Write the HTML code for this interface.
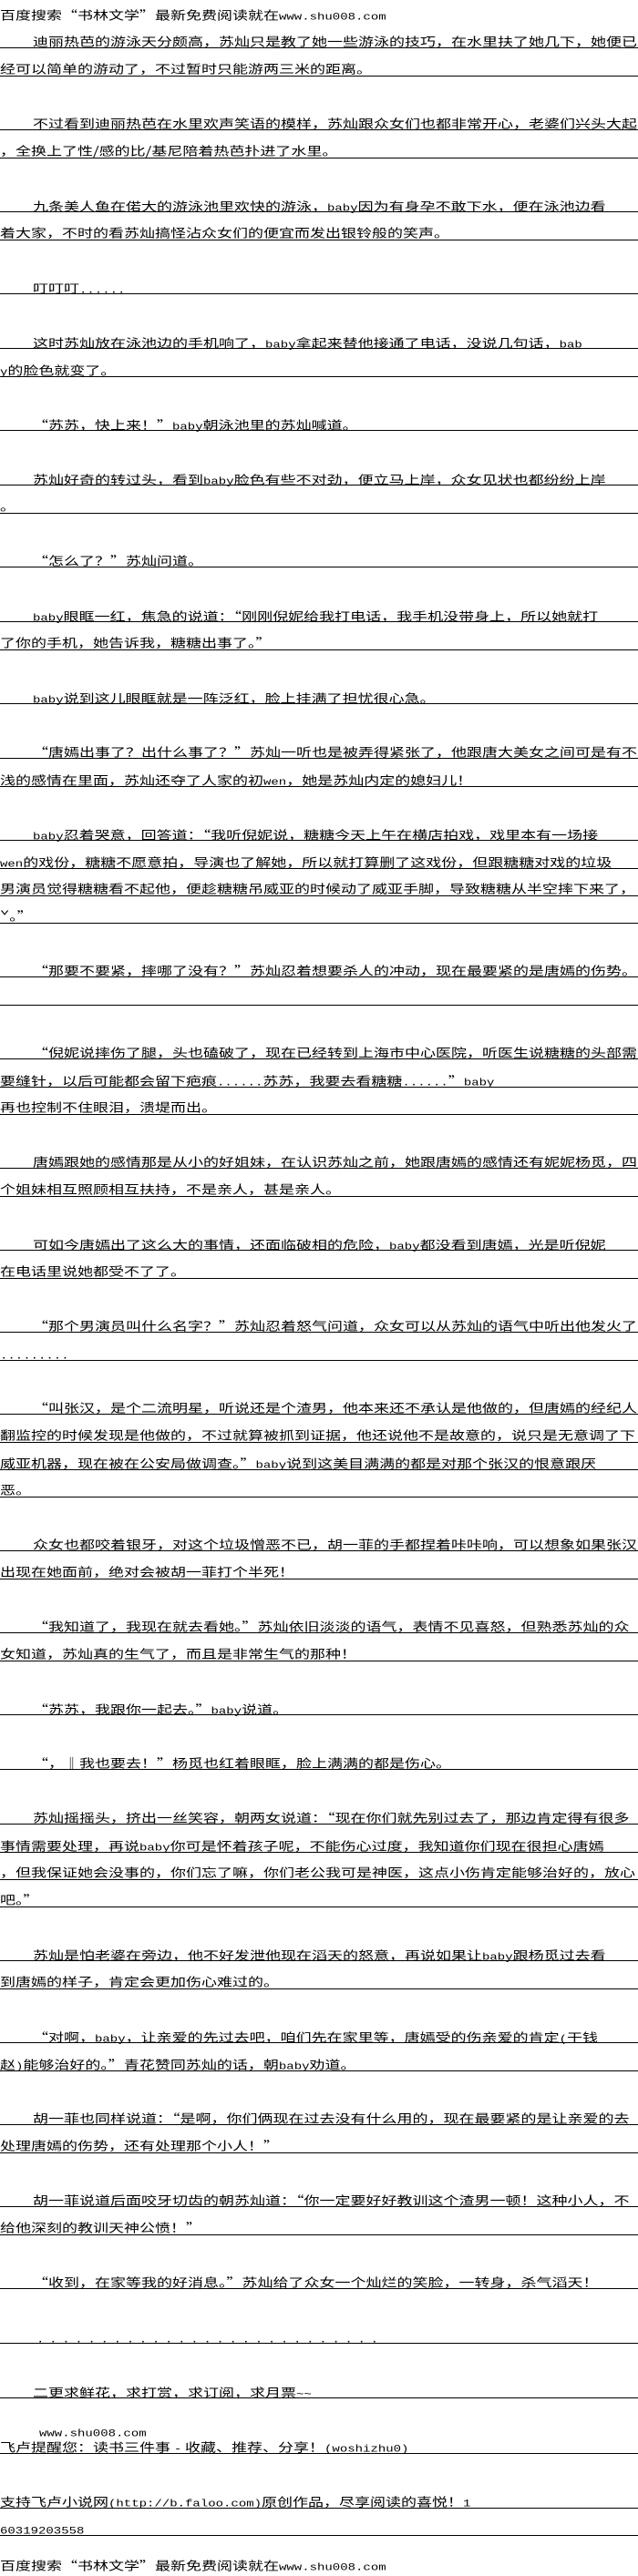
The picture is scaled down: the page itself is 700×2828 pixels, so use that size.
<!DOCTYPE html>
<html lang="zh-CN"><head><meta charset="utf-8">
<style>
html,body{margin:0;padding:0;background:#fff;}
body{width:700px;height:2828px;position:relative;overflow:hidden;color:#000;}
.r{position:absolute;left:0;width:700px;height:20px;border-bottom:1px solid #000;white-space:nowrap;font-family:"Noto Sans CJK SC","WenQuanYi Zen Hei",sans-serif;font-size:17px;line-height:20px;}
.n{border-bottom:none;}
.i{padding-left:36px;box-sizing:border-box;}
.t{display:inline-block;transform:scaleY(.78);transform-origin:0 100%;}
.l{font-family:"Liberation Mono",monospace;font-size:14px;font-style:normal;}
.d{font-family:"Liberation Mono",monospace;font-size:14px;letter-spacing:5.7px;}
</style></head><body>
<div class="r n" style="top:3px"><span class="t">百度搜索“书林文学”最新免费阅读就在<i class="l">www.shu008.com</i></span></div>

<div class="r i" style="top:33px"><span class="t">迪丽热芭的游泳天分颇高，苏灿只是教了她一些游泳的技巧，在水里扶了她几下，她便已</span></div>
<div class="r" style="top:63px"><span class="t">经可以简单的游动了，不过暂时只能游两三米的距离。</span></div>

<div class="r i" style="top:123px"><span class="t">不过看到迪丽热芭在水里欢声笑语的模样，苏灿跟众女们也都非常开心，老婆们兴头大起</span></div>
<div class="r" style="top:153px"><span class="t">，全换上了性/感的比/基尼陪着热芭扑进了水里。</span></div>

<div class="r i" style="top:213px"><span class="t">九条美人鱼在偌大的游泳池里欢快的游泳，<i class="l">baby</i>因为有身孕不敢下水，便在泳池边看</span></div>
<div class="r" style="top:243px"><span class="t">着大家，不时的看苏灿搞怪沾众女们的便宜而发出银铃般的笑声。</span></div>

<div class="r i" style="top:303px"><span class="t">叮叮叮<i class="l">......</i></span></div>

<div class="r i" style="top:363px"><span class="t">这时苏灿放在泳池边的手机响了，<i class="l">baby</i>拿起来替他接通了电话，没说几句话，<i class="l">bab</i></span></div>
<div class="r" style="top:393px"><span class="t"><i class="l">y</i>的脸色就变了。</span></div>

<div class="r i" style="top:453px"><span class="t">“苏苏，快上来！”<i class="l">baby</i>朝泳池里的苏灿喊道。</span></div>

<div class="r i" style="top:513px"><span class="t">苏灿好奇的转过头，看到<i class="l">baby</i>脸色有些不对劲，便立马上岸，众女见状也都纷纷上岸</span></div>
<div class="r" style="top:543px"><span class="t">。</span></div>

<div class="r i" style="top:603px"><span class="t">“怎么了？”苏灿问道。</span></div>

<div class="r i" style="top:663px"><span class="t"><i class="l">baby</i>眼眶一红，焦急的说道：“刚刚倪妮给我打电话，我手机没带身上，所以她就打</span></div>
<div class="r" style="top:693px"><span class="t">了你的手机，她告诉我，糖糖出事了。”</span></div>

<div class="r i" style="top:753px"><span class="t"><i class="l">baby</i>说到这儿眼眶就是一阵泛红，脸上挂满了担忧很心急。</span></div>

<div class="r i" style="top:813px"><span class="t">“唐嫣出事了？出什么事了？”苏灿一听也是被弄得紧张了，他跟唐大美女之间可是有不</span></div>
<div class="r" style="top:843px"><span class="t">浅的感情在里面，苏灿还夺了人家的初<i class="l">wen</i>，她是苏灿内定的媳妇儿！</span></div>

<div class="r i" style="top:903px"><span class="t"><i class="l">baby</i>忍着哭意，回答道：“我听倪妮说，糖糖今天上午在横店拍戏，戏里本有一场接</span></div>
<div class="r" style="top:933px"><span class="t"><i class="l">wen</i>的戏份，糖糖不愿意拍，导演也了解她，所以就打算删了这戏份，但跟糖糖对戏的垃圾</span></div>
<div class="r" style="top:963px"><span class="t">男演员觉得糖糖看不起他，便趁糖糖吊威亚的时候动了威亚手脚，导致糖糖从半空摔下来了，</span></div>
<div class="r" style="top:993px"><span class="t">ˇ。”</span></div>

<div class="r i" style="top:1053px"><span class="t">“那要不要紧，摔哪了没有？”苏灿忍着想要杀人的冲动，现在最要紧的是唐嫣的伤势。</span></div>
<div class="r" style="top:1083px"></div>

<div class="r i" style="top:1143px"><span class="t">“倪妮说摔伤了腿，头也磕破了，现在已经转到上海市中心医院，听医生说糖糖的头部需</span></div>
<div class="r" style="top:1173px"><span class="t">要缝针，以后可能都会留下疤痕<i class="l">......</i>苏苏，我要去看糖糖<i class="l">......</i>”<i class="l">baby</i></span></div>
<div class="r" style="top:1203px"><span class="t">再也控制不住眼泪，溃堤而出。</span></div>

<div class="r i" style="top:1263px"><span class="t">唐嫣跟她的感情那是从小的好姐妹，在认识苏灿之前，她跟唐嫣的感情还有妮妮杨觅，四</span></div>
<div class="r" style="top:1293px"><span class="t">个姐妹相互照顾相互扶持，不是亲人，甚是亲人。</span></div>

<div class="r i" style="top:1353px"><span class="t">可如今唐嫣出了这么大的事情，还面临破相的危险，<i class="l">baby</i>都没看到唐嫣，光是听倪妮</span></div>
<div class="r" style="top:1383px"><span class="t">在电话里说她都受不了了。</span></div>

<div class="r i" style="top:1443px"><span class="t">“那个男演员叫什么名字？”苏灿忍着怒气问道，众女可以从苏灿的语气中听出他发火了</span></div>
<div class="r" style="top:1473px"><span class="t"><i class="l">.........</i></span></div>

<div class="r i" style="top:1533px"><span class="t">“叫张汉，是个二流明星，听说还是个渣男，他本来还不承认是他做的，但唐嫣的经纪人</span></div>
<div class="r" style="top:1563px"><span class="t">翻监控的时候发现是他做的，不过就算被抓到证据，他还说他不是故意的，说只是无意调了下</span></div>
<div class="r" style="top:1593px"><span class="t">威亚机器，现在被在公安局做调查。”<i class="l">baby</i>说到这美目满满的都是对那个张汉的恨意跟厌</span></div>
<div class="r" style="top:1623px"><span class="t">恶。</span></div>

<div class="r i" style="top:1683px"><span class="t">众女也都咬着银牙，对这个垃圾憎恶不已，胡一菲的手都捏着咔咔响，可以想象如果张汉</span></div>
<div class="r" style="top:1713px"><span class="t">出现在她面前，绝对会被胡一菲打个半死！</span></div>

<div class="r i" style="top:1773px"><span class="t">“我知道了，我现在就去看她。”苏灿依旧淡淡的语气，表情不见喜怒，但熟悉苏灿的众</span></div>
<div class="r" style="top:1803px"><span class="t">女知道，苏灿真的生气了，而且是非常生气的那种！</span></div>

<div class="r i" style="top:1863px"><span class="t">“苏苏，我跟你一起去。”<i class="l">baby</i>说道。</span></div>

<div class="r i" style="top:1923px"><span class="t">“，‖我也要去！”杨觅也红着眼眶，脸上满满的都是伤心。</span></div>

<div class="r i" style="top:1983px"><span class="t">苏灿摇摇头，挤出一丝笑容，朝两女说道：“现在你们就先别过去了，那边肯定得有很多</span></div>
<div class="r" style="top:2013px"><span class="t">事情需要处理，再说<i class="l">baby</i>你可是怀着孩子呢，不能伤心过度，我知道你们现在很担心唐嫣</span></div>
<div class="r" style="top:2043px"><span class="t">，但我保证她会没事的，你们忘了嘛，你们老公我可是神医，这点小伤肯定能够治好的，放心</span></div>
<div class="r" style="top:2073px"><span class="t">吧。”</span></div>

<div class="r i" style="top:2133px"><span class="t">苏灿是怕老婆在旁边，他不好发泄他现在滔天的怒意，再说如果让<i class="l">baby</i>跟杨觅过去看</span></div>
<div class="r" style="top:2163px"><span class="t">到唐嫣的样子，肯定会更加伤心难过的。</span></div>

<div class="r i" style="top:2223px"><span class="t">“对啊，<i class="l">baby</i>，让亲爱的先过去吧，咱们先在家里等，唐嫣受的伤亲爱的肯定<i class="l">(</i>干钱</span></div>
<div class="r" style="top:2253px"><span class="t">赵<i class="l">)</i>能够治好的。”青花赞同苏灿的话，朝<i class="l">baby</i>劝道。</span></div>

<div class="r i" style="top:2313px"><span class="t">胡一菲也同样说道：“是啊，你们俩现在过去没有什么用的，现在最要紧的是让亲爱的去</span></div>
<div class="r" style="top:2343px"><span class="t">处理唐嫣的伤势，还有处理那个小人！”</span></div>

<div class="r i" style="top:2403px"><span class="t">胡一菲说道后面咬牙切齿的朝苏灿道：“你一定要好好教训这个渣男一顿！这种小人，不</span></div>
<div class="r" style="top:2433px"><span class="t">给他深刻的教训天神公愤！”</span></div>

<div class="r i" style="top:2493px"><span class="t">“收到，在家等我的好消息。”苏灿给了众女一个灿烂的笑脸，一转身，杀气滔天！</span></div>

<div class="r" style="top:2553px;padding-left:40px;box-sizing:border-box"><span class="t d">...........................</span></div>

<div class="r i" style="top:2613px"><span class="t">二更求鲜花，求打赏，求订阅，求月票<i class="l">~~</i></span></div>

<div class="r n" style="top:2656px;padding-left:43px;box-sizing:border-box"><span class="t"><i class="l">www.shu008.com</i></span></div>
<div class="r" style="top:2673px"><span class="t">飞卢提醒您：读书三件事 <i class="l">-</i> 收藏、推荐、分享！<i class="l">(woshizhu0)</i></span></div>

<div class="r" style="top:2733px"><span class="t">支持飞卢小说网<i class="l">(http://b.faloo.com)</i>原创作品，尽享阅读的喜悦！<i class="l">1</i></span></div>
<div class="r" style="top:2763px"><span class="t"><i class="l">60319203558</i></span></div>

<div class="r n" style="top:2803px"><span class="t">百度搜索“书林文学”最新免费阅读就在<i class="l">www.shu008.com</i></span></div>
</body></html>
